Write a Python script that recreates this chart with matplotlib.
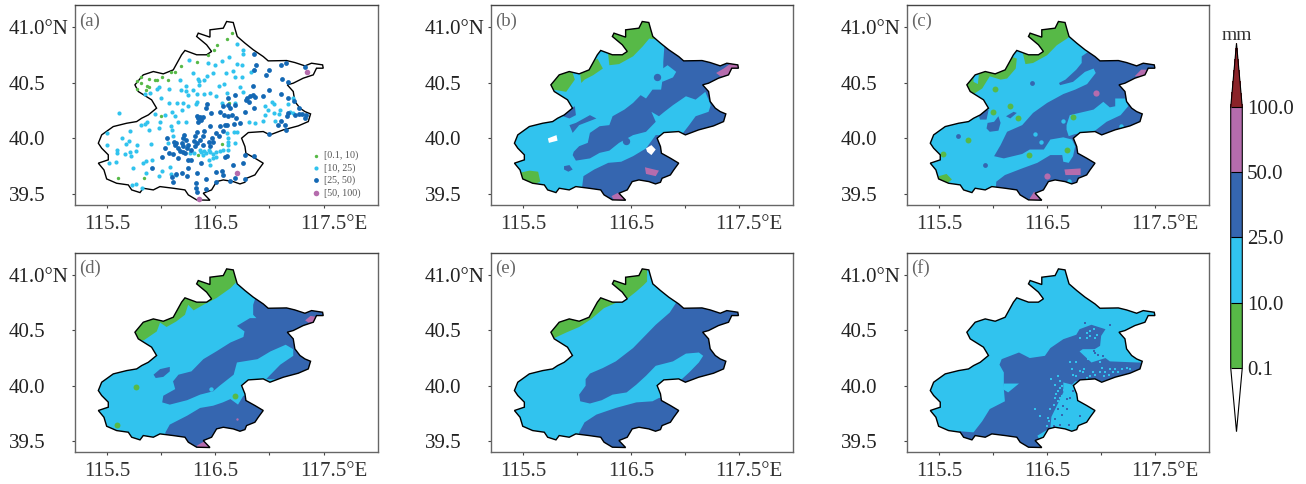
import matplotlib
matplotlib.use("Agg")
import matplotlib.pyplot as plt
from matplotlib.colors import ListedColormap, BoundaryNorm
from matplotlib.colorbar import ColorbarBase
from matplotlib.patches import Polygon
from matplotlib.transforms import offset_copy

plt.rcParams['font.family'] = ['Liberation Serif', 'DejaVu Serif']

GREEN = '#57b947'
LIGHT = '#31c3ee'
DARK = '#3566b0'
PURPLE = '#b56cad'
RED = '#8b2329'

levels = [0.1, 10, 25, 50, 100]
level_labels = ['0.1', '10.0', '25.0', '50.0', '100.0']
station_labels = ['[0.1, 10)', '[10, 25)', '[25, 50)', '[50, 100)']

# Beijing boundary, lon/lat
outline = [
    (116.605, 41.054), (116.666, 41.045), (116.685, 40.979), (116.703, 40.919), (116.774, 40.859),
    (116.851, 40.799), (116.943, 40.738), (116.989, 40.699), (117.159, 40.702), (117.235, 40.684),
    (117.328, 40.654), (117.389, 40.678), (117.491, 40.663), (117.497, 40.633), (117.435, 40.633),
    (117.405, 40.573), (117.312, 40.543), (117.220, 40.498), (117.165, 40.483), (117.220, 40.423),
    (117.235, 40.333), (117.282, 40.273), (117.328, 40.242), (117.380, 40.221), (117.359, 40.152),
    (117.266, 40.113), (117.128, 40.077), (117.005, 40.032), (116.943, 40.062), (116.805, 40.053),
    (116.743, 40.002), (116.774, 39.927), (116.783, 39.867), (116.866, 39.822), (116.943, 39.777),
    (116.897, 39.716), (116.866, 39.671), (116.789, 39.641), (116.774, 39.605), (116.728, 39.590),
    (116.666, 39.611), (116.574, 39.626), (116.512, 39.611), (116.466, 39.536), (116.389, 39.506),
    (116.451, 39.443), (116.328, 39.446), (116.251, 39.491), (116.220, 39.536), (116.112, 39.551),
    (115.989, 39.566), (115.928, 39.536), (115.835, 39.551), (115.805, 39.512), (115.728, 39.536),
    (115.697, 39.581), (115.589, 39.596), (115.497, 39.635), (115.472, 39.716), (115.420, 39.777),
    (115.512, 39.807), (115.512, 39.852), (115.451, 39.912), (115.420, 39.957), (115.451, 40.032),
    (115.558, 40.107), (115.682, 40.137), (115.774, 40.152), (115.820, 40.182), (115.882, 40.212),
    (115.958, 40.273), (115.912, 40.348), (115.789, 40.423), (115.758, 40.483), (115.835, 40.573),
    (115.928, 40.603), (116.020, 40.582), (116.112, 40.618), (116.189, 40.754), (116.220, 40.793),
    (116.328, 40.754), (116.420, 40.754), (116.466, 40.784), (116.420, 40.844), (116.328, 40.919),
    (116.343, 40.949), (116.451, 40.913), (116.451, 40.979), (116.574, 40.994),
]

# panel a, gauge stations per class
stations_green = [
    (116.65, 40.95), (116.61, 40.90), (116.52, 40.84), (116.49, 40.80), (116.43, 40.75), (116.33, 40.69),
    (116.18, 40.65), (116.13, 40.60), (116.09, 40.60), (116.06, 40.53), (116.01, 40.55), (115.96, 40.53),
    (115.94, 40.53), (115.89, 40.54), (115.81, 40.55), (115.78, 40.52), (115.81, 40.50), (115.89, 40.46),
    (115.87, 40.47), (115.86, 40.44), (115.78, 40.45), (116.00, 40.20), (116.56, 39.95), (116.34, 39.85),
    (115.60, 39.64), (115.84, 39.64), (116.63, 40.32),
]
stations_light = [
    (116.70, 40.85), (116.76, 40.80), (116.76, 40.76), (116.63, 40.73), (116.56, 40.70), (116.70, 40.67),
    (116.75, 40.66), (116.26, 40.71), (116.43, 40.68), (116.50, 40.66), (116.48, 40.59), (116.66, 40.61),
    (116.60, 40.59), (116.86, 40.62), (116.83, 40.60), (116.75, 40.55), (116.68, 40.55), (116.42, 40.56),
    (116.40, 40.53), (116.34, 40.54), (116.35, 40.52), (116.29, 40.59), (116.17, 40.53), (116.23, 40.47),
    (116.07, 40.45), (115.98, 40.46), (115.96, 40.45), (115.90, 40.41), (115.85, 40.40), (116.18, 40.44),
    (116.23, 40.43), (116.29, 40.44), (116.35, 40.48), (116.53, 40.47), (116.58, 40.49), (116.45, 40.41),
    (116.33, 40.40), (116.25, 40.39), (116.00, 40.36), (116.07, 40.32), (116.15, 40.32), (116.20, 40.32),
    (116.32, 40.31), (116.25, 40.29), (116.10, 40.24), (116.19, 40.26), (116.04, 40.21), (115.94, 40.22),
    (116.13, 40.20), (115.61, 40.23), (115.87, 40.15), (115.85, 40.13), (115.81, 40.12), (115.71, 40.07),
    (115.89, 40.08), (115.99, 40.15), (115.98, 40.09), (116.09, 40.11), (116.10, 40.08), (116.16, 40.15),
    (116.23, 40.15), (115.50, 40.05), (115.64, 40.00), (115.70, 39.98), (115.68, 39.95), (115.78, 39.94),
    (115.91, 39.95), (115.59, 39.90), (115.59, 39.87), (115.50, 39.94), (115.77, 39.89), (115.71, 39.88),
    (115.67, 39.86), (115.72, 39.84), (115.58, 39.79), (115.52, 39.78), (115.86, 39.80), (115.83, 39.78),
    (115.92, 39.81), (115.74, 39.73), (115.86, 39.69), (116.01, 39.71), (115.73, 39.58), (115.77, 39.59),
    (115.82, 39.55), (115.98, 39.66), (116.09, 39.68), (116.14, 39.67), (116.08, 39.74), (116.36, 39.90),
    (116.37, 39.88), (116.40, 39.89), (116.41, 39.87), (116.44, 39.90), (116.45, 39.88), (116.48, 39.86),
    (116.51, 39.88), (116.54, 39.89), (116.57, 39.90), (116.30, 39.87), (116.27, 39.87), (116.39, 39.85),
    (116.44, 39.81), (116.51, 39.83), (116.48, 39.82), (116.62, 39.97), (116.62, 39.94), (116.68, 39.96),
    (116.62, 39.90), (116.45, 39.76), (116.96, 40.29), (116.99, 40.26), (117.02, 40.33), (117.04, 40.31),
    (117.10, 40.26), (117.09, 40.22), (116.96, 40.21), (116.81, 40.15), (116.87, 40.14), (116.94, 40.16),
    (117.04, 40.23), (117.05, 40.16), (117.17, 40.31), (117.22, 40.36), (117.19, 40.24), (117.22, 40.23),
    (116.68, 40.32), (116.56, 40.32), (116.67, 40.06), (116.61, 40.05), (116.70, 40.06), (116.62, 40.00),
    (116.06, 39.96), (116.11, 40.02), (116.40, 40.40), (116.33, 40.33), (116.61, 40.41), (116.51, 40.38),
    (116.73, 40.46), (116.76, 40.42),
]
stations_dark = [
    (116.86, 40.76), (116.88, 40.66), (116.86, 40.62), (117.11, 40.66), (117.15, 40.68), (117.33, 40.64),
    (117.00, 40.62), (116.97, 40.57), (117.12, 40.54), (117.17, 40.51), (116.85, 40.47), (117.00, 40.44),
    (117.11, 40.40), (116.68, 40.39), (116.62, 40.36), (116.79, 40.36), (116.82, 40.38), (116.78, 40.35),
    (116.81, 40.33), (116.85, 40.39), (116.87, 40.37), (116.94, 40.38), (117.17, 40.36), (117.23, 40.34),
    (116.57, 40.29), (116.62, 40.30), (116.64, 40.27), (116.68, 40.30), (116.77, 40.24), (116.86, 40.27),
    (116.42, 40.31), (116.41, 40.27), (116.46, 40.23), (116.54, 40.24), (116.33, 40.20), (116.36, 40.19),
    (116.39, 40.19), (116.34, 40.18), (116.37, 40.17), (116.34, 40.15), (116.58, 40.21), (116.65, 40.21),
    (116.69, 40.18), (116.62, 40.20), (116.73, 40.14), (116.67, 40.13), (116.61, 40.12), (116.59, 40.12),
    (116.54, 40.11), (116.45, 40.11), (116.33, 40.06), (116.40, 40.07), (116.31, 40.02), (116.39, 40.02),
    (116.51, 40.05), (116.57, 40.07), (116.53, 40.02), (116.47, 40.00), (117.27, 40.27), (117.30, 40.22),
    (117.34, 40.21), (117.27, 40.22), (117.33, 40.18), (117.24, 40.21), (117.17, 40.23), (117.16, 40.20),
    (117.11, 40.16), (117.08, 40.12), (117.14, 40.12), (117.15, 40.08), (117.00, 40.04), (116.05, 40.00),
    (116.12, 39.97), (116.13, 39.94), (116.14, 39.96), (116.20, 40.00), (116.21, 40.03), (116.23, 39.99),
    (116.19, 39.96), (116.16, 39.91), (116.17, 39.89), (116.20, 39.88), (116.22, 39.87), (116.28, 39.90),
    (116.31, 39.93), (116.33, 39.96), (116.36, 39.99), (116.44, 39.97), (116.48, 39.97), (116.39, 39.94),
    (116.45, 39.93), (116.30, 39.98), (116.25, 39.94), (116.20, 39.93), (116.24, 39.91), (116.04, 39.91),
    (116.07, 39.87), (116.11, 39.86), (116.01, 39.83), (116.16, 39.82), (116.25, 39.81), (116.28, 39.81),
    (116.37, 39.78), (116.25, 39.73), (116.33, 39.69), (116.19, 39.69), (116.14, 39.68), (116.10, 39.65),
    (116.24, 39.66), (116.11, 39.61), (116.32, 39.60), (116.41, 39.63), (116.32, 39.55), (116.41, 39.54),
    (116.33, 39.52), (116.51, 39.70), (116.56, 39.71), (116.57, 39.67), (116.51, 39.61), (116.64, 39.62),
    (116.68, 39.64), (116.77, 39.63), (116.66, 39.76), (116.76, 39.78), (116.61, 39.84), (116.59, 39.83),
    (116.77, 39.85), (116.86, 39.84), (115.92, 39.73),
]
stations_purple = [(117.35, 40.60), (116.70, 39.69), (116.35, 39.45)]

# panel b
b_green = [
    [(116.30, 40.66), (116.39, 40.67), (116.52, 40.74), (116.61, 40.83), (116.67, 40.90), (116.76, 40.89),
     (116.76, 41.13), (116.25, 41.13), (116.29, 40.75)],
    [(116.04, 40.50), (116.07, 40.53), (116.15, 40.57), (116.24, 40.63), (116.19, 40.72), (116.12, 40.68),
     (116.02, 40.65)],
    [(115.73, 40.53), (115.78, 40.44), (115.90, 40.42), (115.98, 40.53), (115.95, 40.62), (115.81, 40.63),
     (115.68, 40.54)],
    [(115.47, 39.69), (115.56, 39.71), (115.64, 39.70), (115.66, 39.61), (115.56, 39.57), (115.44, 39.63)],
]
b_dark = [
    [(115.96, 39.85), (115.97, 39.88), (116.02, 39.93), (116.10, 39.96), (116.12, 40.05), (116.21, 40.11),
     (116.30, 40.12), (116.33, 40.20), (116.44, 40.26), (116.52, 40.32), (116.59, 40.39), (116.64, 40.36),
     (116.70, 40.44), (116.78, 40.44), (116.79, 40.51), (116.80, 40.63), (116.80, 40.69), (116.81, 40.83),
     (117.62, 40.95), (117.62, 39.99), (116.96, 40.02), (117.04, 40.12), (117.10, 40.20), (117.22, 40.24),
     (117.24, 40.30), (117.19, 40.42), (117.10, 40.35), (117.01, 40.38), (116.89, 40.30), (116.81, 40.24),
     (116.76, 40.20), (116.69, 40.24), (116.73, 40.15), (116.64, 40.06), (116.52, 40.03), (116.39, 39.96),
     (116.30, 39.89), (116.21, 39.87), (116.12, 39.82), (115.99, 39.80)],
    [(116.05, 39.58), (116.06, 39.66), (116.16, 39.72), (116.29, 39.78), (116.41, 39.79), (116.52, 39.84),
     (116.64, 39.91), (116.70, 39.99), (116.73, 40.03), (117.62, 40.03), (117.62, 39.30), (116.02, 39.30)],
    [(115.87, 40.20), (115.92, 40.26), (115.98, 40.29), (115.99, 40.21), (115.93, 40.18)],
    [(115.93, 40.12), (115.99, 40.14), (116.12, 40.21), (116.18, 40.18), (116.02, 40.12), (115.96, 40.05)],
    [(115.88, 39.75), (115.93, 39.76), (115.96, 39.72), (115.92, 39.70), (115.88, 39.72)],
]
b_light = [[(116.78, 40.62), (116.84, 40.66), (116.92, 40.60), (116.89, 40.55), (116.79, 40.51)]]
b_purple = [
    [(117.29, 40.59), (117.36, 40.63), (117.43, 40.68), (117.52, 40.68), (117.52, 40.62), (117.44, 40.63),
     (117.41, 40.57), (117.33, 40.56)],
    [(116.63, 39.74), (116.76, 39.71), (116.73, 39.66), (116.64, 39.68)],
    [(116.32, 39.48), (116.38, 39.51), (116.45, 39.45), (116.36, 39.42)],
]
b_white = [
    [(115.73, 40.00), (115.81, 40.03), (115.82, 39.98), (115.74, 39.96)],
    [(116.64, 39.91), (116.69, 39.94), (116.73, 39.90), (116.69, 39.85), (116.65, 39.88)],
]
b_dark_spots = [(116.45, 39.98), (116.74, 40.55)]

# panel c
c_green = [
    [(116.30, 40.67), (116.37, 40.68), (116.50, 40.75), (116.59, 40.84), (116.70, 40.91), (116.70, 41.13),
     (116.27, 41.13), (116.28, 40.75)],
    [(115.82, 40.40), (115.90, 40.45), (115.97, 40.56), (116.07, 40.53), (116.13, 40.54), (116.21, 40.63),
     (116.22, 40.72), (116.16, 40.74), (115.85, 40.68), (115.67, 40.53), (115.67, 40.40)],
    [(115.50, 39.66), (115.57, 39.68), (115.62, 39.63), (115.57, 39.59), (115.48, 39.61)],
]
c_dark = [
    [(116.88, 40.78), (116.82, 40.74), (116.82, 40.68), (116.77, 40.62), (116.67, 40.53), (116.61, 40.50),
     (116.62, 40.48), (116.74, 40.51), (116.85, 40.60), (116.93, 40.63), (116.95, 40.59), (116.87, 40.49),
     (116.76, 40.44), (116.65, 40.40), (116.50, 40.32), (116.37, 40.23), (116.27, 40.12), (116.13, 40.06),
     (116.10, 40.00), (116.07, 39.94), (116.01, 39.84), (116.10, 39.82), (116.27, 39.86), (116.34, 39.90),
     (116.47, 39.90), (116.53, 39.99), (116.65, 40.01), (116.73, 39.99), (116.76, 39.93), (116.74, 39.84),
     (116.70, 39.78), (116.65, 39.79), (116.64, 39.85), (116.53, 39.85), (116.41, 39.78), (116.27, 39.73),
     (116.11, 39.67), (116.03, 39.61), (116.01, 39.27), (117.75, 39.30), (117.75, 40.85), (116.88, 40.85)],
    [(115.87, 40.20), (115.91, 40.25), (115.96, 40.26), (115.94, 40.17), (115.88, 40.17)],
    [(115.94, 40.09), (115.95, 40.14), (116.01, 40.15), (116.05, 40.20), (116.07, 40.14), (116.05, 40.07),
     (115.97, 40.06)],
    [(116.12, 40.20), (116.19, 40.24), (116.22, 40.23), (116.16, 40.18)],
]
c_light = [
    [(116.68, 40.08), (116.68, 40.12), (116.71, 40.21), (116.93, 40.26), (117.02, 40.33), (117.08, 40.28),
     (117.13, 40.29), (117.13, 40.36), (117.22, 40.36), (117.25, 40.29), (117.18, 40.21), (117.05, 40.15),
     (116.93, 40.06), (116.76, 40.04), (116.70, 40.02)],
    [(115.82, 40.57), (115.87, 40.58), (115.86, 40.49), (115.82, 40.51)],
]
c_purple = [
    [(117.31, 40.56), (117.37, 40.62), (117.42, 40.62), (117.43, 40.56), (117.35, 40.56)],
    [(116.66, 39.72), (116.81, 39.73), (116.81, 39.67), (116.67, 39.67)],
    [(116.34, 39.46), (116.38, 39.52), (116.43, 39.45), (116.34, 39.42)],
]
c_green_spots = [(116.02, 40.45), (116.00, 40.24), (116.16, 40.29), (116.23, 40.18), (115.77, 39.99),
                 (115.54, 39.86), (116.68, 39.90), (116.74, 40.19), (116.33, 39.85)]
c_dark_spots = [(116.36, 40.50), (115.68, 40.02), (115.93, 39.76)]
c_light_spots = [(116.44, 39.97), (116.65, 40.16), (116.39, 40.04), (117.18, 40.11), (116.70, 39.62)]
c_purple_spots = [(116.95, 40.41), (116.50, 39.66)]

# panel d
d_green = [
    [(115.84, 40.41), (115.96, 40.49), (115.99, 40.57), (116.05, 40.53), (116.14, 40.58), (116.22, 40.64),
     (116.25, 40.73), (116.30, 40.68), (116.39, 40.73), (116.51, 40.79), (116.64, 40.88), (116.70, 40.94),
     (116.70, 41.14), (115.62, 41.14), (115.62, 40.41)],
]
d_dark = [
    [(116.87, 40.79), (116.85, 40.73), (116.85, 40.64), (116.88, 40.61), (116.82, 40.61), (116.70, 40.54),
     (116.77, 40.49), (116.76, 40.44), (116.64, 40.39), (116.51, 40.31), (116.39, 40.24), (116.28, 40.13),
     (116.16, 40.10), (116.11, 40.04), (116.13, 39.97), (116.02, 39.91), (116.01, 39.85), (116.08, 39.83),
     (116.24, 39.87), (116.36, 39.92), (116.48, 39.95), (116.54, 40.00), (116.67, 40.10), (116.70, 40.21),
     (116.89, 40.24), (117.01, 40.31), (117.15, 40.37), (117.22, 40.33), (117.22, 40.27), (117.10, 40.19),
     (116.97, 40.06), (117.75, 40.04), (117.75, 40.87), (116.87, 40.87)],
    [(116.04, 39.58), (116.08, 39.65), (116.24, 39.73), (116.36, 39.80), (116.48, 39.82), (116.57, 39.85),
     (116.64, 39.88), (116.71, 39.83), (116.76, 39.91), (117.13, 39.91), (117.13, 39.34), (116.02, 39.34)],
    [(115.93, 40.10), (115.99, 40.15), (116.08, 40.17), (116.08, 40.13), (116.02, 40.08), (115.95, 40.07)],
]
d_purple = [
    [(117.33, 40.59), (117.38, 40.63), (117.44, 40.62), (117.44, 40.57), (117.36, 40.57)],
    [(116.33, 39.46), (116.40, 39.50), (116.45, 39.46), (116.45, 39.40), (116.33, 39.40)],
]
d_green_spots = [(115.77, 39.99), (115.59, 39.65), (116.68, 39.91)]
d_light_spots = [(116.46, 39.97)]
d_purple_spots = [(116.70, 39.70)]

# panel e
e_green = [
    [(115.79, 40.43), (115.90, 40.48), (116.02, 40.53), (116.13, 40.60), (116.25, 40.70), (116.39, 40.76),
     (116.46, 40.78), (116.55, 40.85), (116.62, 40.91), (116.65, 40.94), (116.65, 41.05), (116.65, 41.14),
     (115.62, 41.14), (115.62, 40.43)],
]
e_dark = [
    [(116.92, 40.75), (116.86, 40.66), (116.73, 40.55), (116.64, 40.46), (116.52, 40.34), (116.36, 40.22),
     (116.24, 40.16), (116.12, 40.11), (116.08, 40.06), (116.08, 40.00), (116.02, 39.92), (116.03, 39.86),
     (116.12, 39.84), (116.23, 39.87), (116.33, 39.92), (116.46, 39.94), (116.55, 40.01), (116.64, 40.09),
     (116.73, 40.18), (116.89, 40.22), (117.01, 40.29), (117.13, 40.30), (117.17, 40.27), (117.13, 40.21),
     (117.04, 40.12), (116.95, 40.04), (116.95, 40.02), (117.78, 40.02), (117.78, 40.87), (116.92, 40.87)],
    [(116.02, 39.58), (116.07, 39.67), (116.18, 39.74), (116.36, 39.80), (116.55, 39.85), (116.70, 39.86),
     (116.76, 39.89), (117.16, 39.89), (117.16, 39.34), (116.00, 39.34)],
]

# panel f
f_dark = [
    [(115.69, 39.59), (115.82, 39.58), (115.90, 39.68), (115.97, 39.79), (116.11, 39.86), (116.10, 39.97),
     (116.10, 40.12), (116.06, 40.19), (116.08, 40.24), (116.24, 40.30), (116.34, 40.25), (116.48, 40.27),
     (116.53, 40.34), (116.65, 40.42), (116.77, 40.46), (116.80, 40.51), (116.91, 40.55), (117.04, 40.51),
     (117.00, 40.45), (116.99, 40.36), (116.94, 40.33), (116.83, 40.33), (116.80, 40.31), (116.91, 40.21),
     (117.04, 40.25), (117.08, 40.22), (117.33, 40.21), (117.37, 40.21), (117.36, 40.15), (117.20, 40.09),
     (117.01, 40.04), (116.76, 40.04), (116.73, 40.01), (116.65, 40.03), (116.65, 39.94), (116.59, 39.82),
     (116.54, 39.72), (116.53, 39.62), (116.41, 39.55), (116.47, 39.44), (116.47, 39.34), (115.67, 39.34)],
]
f_light = [[(116.10, 40.02), (116.24, 40.02), (116.14, 39.94), (116.09, 39.97)]]
f_light_specks = [
    (116.73, 40.15), (116.74, 40.10), (116.77, 40.09), (116.80, 40.13), (116.84, 40.15), (116.87, 40.07),
    (116.90, 40.09), (116.94, 40.10), (116.99, 40.12), (117.01, 40.16), (117.04, 40.12), (117.07, 40.10),
    (117.08, 40.15), (117.13, 40.15), (117.16, 40.12), (117.19, 40.15), (117.24, 40.16), (117.27, 40.15),
    (116.77, 40.21), (116.71, 40.21), (116.88, 40.24), (116.99, 40.21), (116.60, 40.09), (116.62, 40.04),
    (116.57, 40.01), (116.54, 40.06), (116.64, 40.00), (116.68, 39.98), (116.71, 39.95), (116.60, 39.95),
    (116.64, 39.91), (116.67, 39.92), (116.57, 39.89), (116.60, 39.86), (116.56, 39.83), (116.53, 39.79),
    (116.56, 39.74), (116.51, 39.71), (116.50, 39.64), (116.39, 39.79), (116.43, 39.73), (116.87, 40.48),
    (116.90, 40.45), (116.93, 40.51), (116.94, 40.43), (116.87, 40.43), (116.96, 40.46), (116.90, 40.49),
    (116.80, 40.43), (116.83, 40.12), (116.92, 40.12), (117.03, 40.09), (117.11, 40.12), (116.66, 39.96),
    (116.62, 39.98), (116.58, 39.93), (116.62, 39.89), (116.52, 39.68),
]
f_dark_specks = [
    (116.94, 40.30), (116.97, 40.28), (117.02, 40.27), (116.93, 40.31), (116.68, 39.88), (116.71, 39.89),
    (116.65, 39.82), (116.64, 39.74), (116.57, 39.70), (116.60, 39.79), (116.68, 39.79), (116.74, 39.95),
    (116.80, 39.73), (116.62, 39.65), (116.70, 39.65), (116.56, 39.64), (117.08, 40.55), (116.85, 40.57),
]


def unzip(pts):
    return [p[0] for p in pts], [p[1] for p in pts]


def px_axes(left, right, top, bottom):
    return fig.add_axes([left / 1306, 1 - bottom / 484, (right - left) / 1306, (bottom - top) / 484])


def setup_axes(ax, name):
    ax.set_xlim(115.2, 118.0)
    ax.set_ylim(39.4, 41.2)
    ax.set_xticks([115.5, 116.0, 116.5, 117.0, 117.5])
    ax.set_xticklabels(['115.5', '', '116.5', '', '117.5°E'])
    ax.set_yticks([39.5, 40.0, 40.5, 41.0])
    ax.set_yticklabels(['39.5', '40.0', '40.5', '41.0°N'])
    ax.tick_params(axis='x', length=2.5, width=0.8, color='#444444', labelsize=15, labelcolor='#333333', pad=4.5)
    ax.tick_params(axis='y', length=2.5, width=0.8, color='#444444', labelsize=15, labelcolor='#222222', pad=45)
    for lab in ax.get_yticklabels():
        lab.set_ha('left')
    # only the number is centred under the tick, the degree sign hangs off
    last = ax.get_xticklabels()[-1]
    last.set_ha('left')
    last.set_transform(offset_copy(last.get_transform(), fig=fig, x=-17, y=0, units='points'))
    for sp in ax.spines.values():
        sp.set_linewidth(1.0)
        sp.set_color('#666666')
    ax.spines['top'].set_color('#444444')
    ax.text(0.014, 0.922, name, transform=ax.transAxes, fontsize=13.5, color='#666666', ha='left', va='center')


def draw_map(ax, layers=(), spots=()):
    # base colour, then every layer cut to the boundary
    shape = Polygon(outline, closed=True, fc=LIGHT, ec='none', zorder=1)
    ax.add_patch(shape)
    for polys, color in layers:
        for poly in polys:
            x, y = unzip(poly)
            for p in ax.fill(x, y, color=color, lw=0, zorder=2):
                p.set_clip_path(shape)
    for pts, color, size, marker in spots:
        x, y = unzip(pts)
        sc = ax.scatter(x, y, s=size, c=color, marker=marker, linewidths=0, zorder=3)
        sc.set_clip_path(shape)
    ax.add_patch(Polygon(outline, closed=True, fc='none', ec='black', lw=1.0, zorder=4))


fig = plt.figure(figsize=(13.06, 4.84), dpi=100)

lefts = [74.5, 490.7, 906.5]
rights = [377.7, 792.7, 1209.3]
tops = [5.3, 252.7]
bottoms = [205, 452.3]

# (a) stations
ax = px_axes(lefts[0], rights[0], tops[0], bottoms[0])
setup_axes(ax, '(a)')
ax.add_patch(Polygon(outline, closed=True, fc='none', ec='black', lw=1.0, zorder=1))
for pts, color, size, lab in zip([stations_green, stations_light, stations_dark, stations_purple],
                                 [GREEN, LIGHT, '#1468b4', PURPLE], [6, 9, 12, 16], station_labels):
    x, y = unzip(pts)
    ax.scatter(x, y, s=size, c=color, linewidths=0, zorder=3, label=lab)
ax.legend(loc='lower right', bbox_to_anchor=(0.96, 0.012), frameon=False, fontsize=7.2, labelcolor='#555555',
          labelspacing=0.28, handletextpad=0.1, borderpad=0.3, handlelength=1.4, borderaxespad=0.2, scatterpoints=1)

# (b)
ax = px_axes(lefts[1], rights[1], tops[0], bottoms[0])
setup_axes(ax, '(b)')
draw_map(ax, [(b_green, GREEN), (b_dark, DARK), (b_light, LIGHT), (b_purple, PURPLE), (b_white, 'white')],
         [(b_dark_spots, DARK, 28, 'o')])

# (c)
ax = px_axes(lefts[2], rights[2], tops[0], bottoms[0])
setup_axes(ax, '(c)')
draw_map(ax, [(c_green, GREEN), (c_dark, DARK), (c_light, LIGHT), (c_purple, PURPLE)],
         [(c_green_spots, GREEN, 18, 'o'), (c_dark_spots, DARK, 12, 'o'), (c_light_spots, LIGHT, 10, 'o'),
          (c_purple_spots, PURPLE, 20, 'o')])

# (d)
ax = px_axes(lefts[0], rights[0], tops[1], bottoms[1])
setup_axes(ax, '(d)')
draw_map(ax, [(d_green, GREEN), (d_dark, DARK), (d_purple, PURPLE)],
         [(d_green_spots, GREEN, 18, 'o'), (d_light_spots, LIGHT, 10, 'o'), (d_purple_spots, PURPLE, 3, 'o')])

# (e)
ax = px_axes(lefts[1], rights[1], tops[1], bottoms[1])
setup_axes(ax, '(e)')
draw_map(ax, [(e_green, GREEN), (e_dark, DARK)])

# (f)
ax = px_axes(lefts[2], rights[2], tops[1], bottoms[1])
setup_axes(ax, '(f)')
draw_map(ax, [(f_dark, DARK), (f_light, LIGHT)],
         [(f_light_specks, LIGHT, 4, 's'), (f_dark_specks, DARK, 4, 's')])

# colour bar, axes box runs from tip to tip
cax = px_axes(1230.7, 1242.3, 43.3, 431.7)
cmap = ListedColormap([GREEN, LIGHT, DARK, PURPLE])
cmap.set_under('white')
cmap.set_over(RED)
norm = BoundaryNorm(levels, cmap.N)
cb = ColorbarBase(cax, cmap=cmap, norm=norm, extend='both', extendfrac=0.246, spacing='uniform',
                  ticks=levels, orientation='vertical', drawedges=True)
cb.set_ticklabels(level_labels)
cb.ax.tick_params(length=0, labelsize=15, labelcolor='#222222', pad=3.5)
cb.outline.set_linewidth(0.8)
cb.dividers.set_linewidth(0.8)
fig.text(1236.5 / 1306, 1 - 35 / 484, 'mm', fontsize=14, color='#333333', ha='center', va='center')

fig.savefig('out.png', dpi=100)
